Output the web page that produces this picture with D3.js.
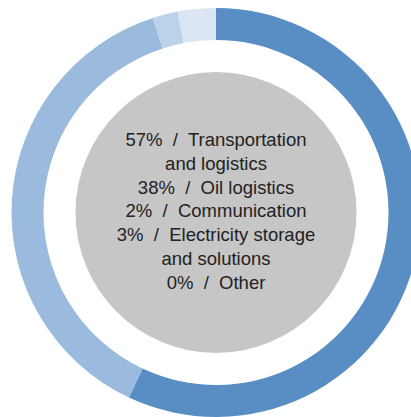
<!DOCTYPE html>
<html>
<head>
<meta charset="utf-8">
<script src="https://cdn.jsdelivr.net/npm/d3@7"></script>
<style>
  html, body { margin: 0; padding: 0; background: #fff; }
  svg { display: block; }
</style>
</head>
<body>
<svg id="chart" width="411" height="417"></svg>
<script>
// Revenue split by business segment
const categories = ["Transportation and logistics", "Oil logistics", "Communication", "Electricity storage and solutions", "Other"];
const values = [57, 38, 2, 3, 0];
const colors = ["#588ec3", "#9abbdd", "#bbd2e8", "#dce6f2", "#eef3f9"];
// Legend text in the centre, wrapped as printed
const labelLines = [
  "57%  /  Transportation",
  "and logistics",
  "38%  /  Oil logistics",
  "2%  /  Communication",
  "3%  /  Electricity storage",
  "and solutions",
  "0%  /  Other"
];

const svg = d3.select("#chart");
const cx = 216, cy = 212.5;
const outerR = 204.5, innerR = 172.5, discR = 140.5;

const g = svg.append("g").attr("transform", `translate(${cx},${cy})`);

const pie = d3.pie().sort(null).value(d => d).startAngle(0).endAngle(2 * Math.PI);
const arc = d3.arc().innerRadius(innerR).outerRadius(outerR);

g.selectAll("path.seg")
  .data(pie(values))
  .join("path")
  .attr("class", "seg")
  .attr("d", arc)
  .attr("fill", (d, i) => colors[i]);

g.append("circle").attr("r", discR).attr("fill", "#c6c6c6");

const lineH = 23.9;
const firstBaseline = 145.7 - cy;
g.append("g")
  .selectAll("text")
  .data(labelLines)
  .join("text")
  .attr("x", 0)
  .attr("y", (d, i) => firstBaseline + i * lineH)
  .attr("text-anchor", "middle")
  .attr("font-family", "Liberation Sans, Arial, sans-serif")
  .attr("font-size", 18.5)
  .attr("fill", "#222")
  .style("white-space", "pre")
  .text(d => d);
</script>
</body>
</html>
